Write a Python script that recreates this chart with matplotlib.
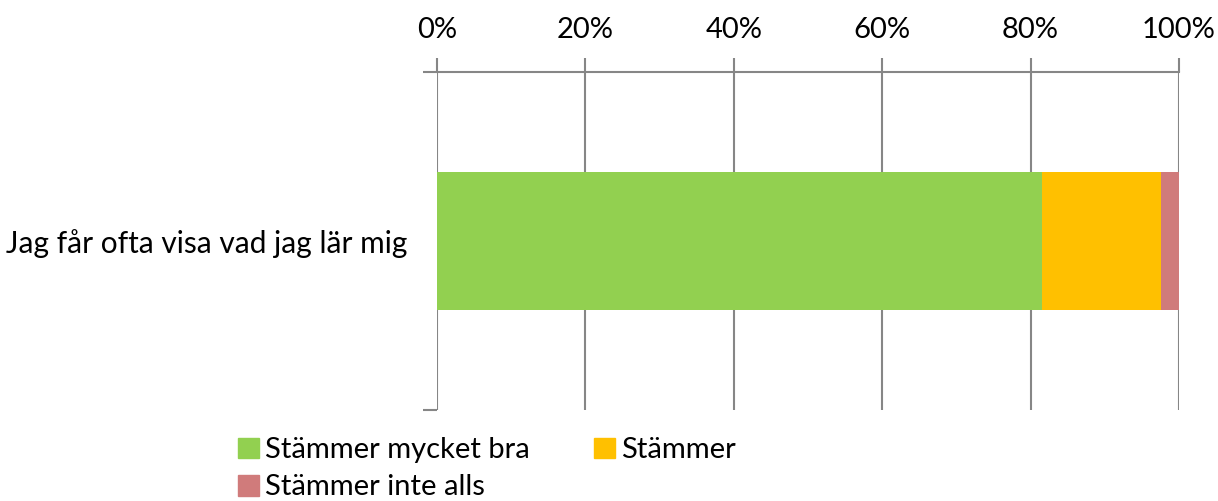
import matplotlib
matplotlib.use('Agg')
import matplotlib.pyplot as plt
from matplotlib.patches import Patch

plt.rcParams['font.family'] = ['Lato', 'DejaVu Sans']

# data
categories = ['Jag får ofta visa vad jag lär mig']
series_names = ['Stämmer mycket bra', 'Stämmer', 'Stämmer inte alls']
values = [81.5, 16.1, 2.4]
colors = ['#92D050', '#FFC000', '#D07B7B']
tick_vals = [0, 20, 40, 60, 80, 100]
tick_labels = ['0%', '20%', '40%', '60%', '80%', '100%']

fig = plt.figure(figsize=(12.18, 5.01), dpi=100)
ax = fig.add_axes([437 / 1218, 1 - 410 / 501, (1179 - 437) / 1218, (410 - 72) / 501])

left = 0
for name, v, c in zip(series_names, values, colors):
    ax.barh(categories[0], v, left=left, height=0.41, color=c, zorder=3)
    left += v

ax.set_xlim(0, 100)
ax.set_ylim(-0.5, 0.5)
ax.xaxis.tick_top()
ax.set_xticks(tick_vals)
ax.set_xticklabels(tick_labels, fontsize=21)
ax.tick_params(axis='x', length=10, width=1.5, color='#868686', pad=11)
ax.grid(axis='x', color='#868686', linewidth=1.5, zorder=0)

# category boundary ticks on the left
ax.set_yticks([-0.5, 0.5], minor=True)
ax.tick_params(axis='y', which='minor', length=10, width=1.5, color='#868686', direction='out')
ax.set_yticks([0])
ax.set_yticklabels(categories, fontsize=21.5)
ax.tick_params(axis='y', which='major', length=0, pad=21)

for s in ['right', 'bottom', 'left']:
    ax.spines[s].set_visible(False)
ax.spines['top'].set_color('#868686')
ax.spines['top'].set_linewidth(1.5)

handles = [Patch(color=colors[0]), Patch(color=colors[2]), Patch(color=colors[1])]
labels = [series_names[0], series_names[2], series_names[1]]
fig.legend(handles, labels, ncol=2, loc='upper left', bbox_to_anchor=(212 / 1218, 1 - 411 / 501),
           frameon=False, fontsize=21, handlelength=0.72, handleheight=0.72,
           handletextpad=0.2, columnspacing=2.2, labelspacing=0.38)

fig.savefig('out.png', dpi=100)
